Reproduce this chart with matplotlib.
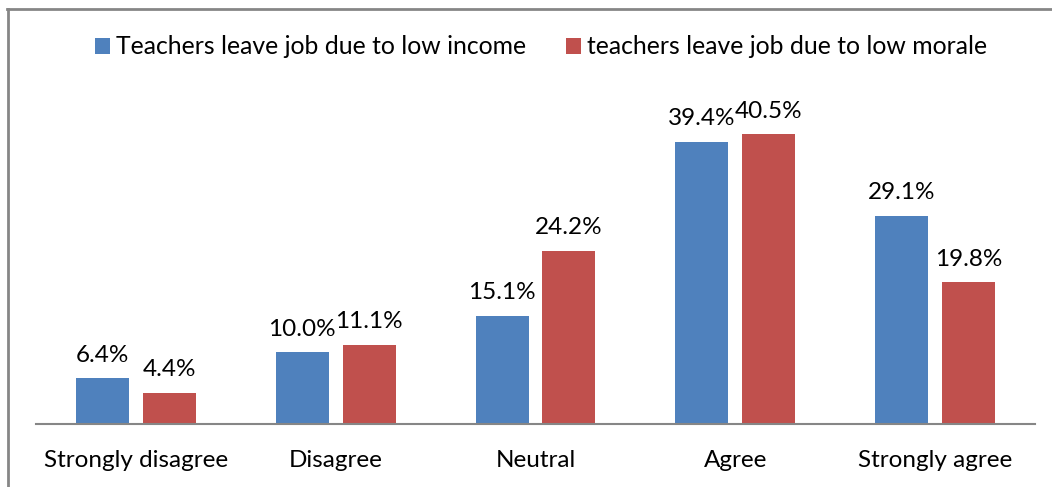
import matplotlib
matplotlib.use("Agg")
import matplotlib.pyplot as plt
import numpy as np
from matplotlib.lines import Line2D
from matplotlib.patches import Patch

categories = ["Strongly disagree", "Disagree", "Neutral", "Agree", "Strongly agree"]
series_names = ["Teachers leave job due to low income",
                "teachers leave job due to low morale"]
low_income = [6.4, 10.0, 15.1, 39.4, 29.1]
low_morale = [4.4, 11.1, 24.2, 40.5, 19.8]

blue = "#4F81BD"
red = "#C0504D"

plt.rcParams["font.family"] = ["Lato", "DejaVu Sans"]
FS = 17.5

W, H = 1052, 487
fig = plt.figure(figsize=(W / 100, H / 100), dpi=100)

# plot area in pixel coordinates
left, right, bottom, top = 36, 1035, 424, 102
ax = fig.add_axes([left / W, 1 - bottom / H, (right - left) / W, (bottom - top) / H])

x = np.arange(len(categories))
width = 0.265
offset = 0.1675
b1 = ax.bar(x - offset, low_income, width, color=blue)
b2 = ax.bar(x + offset, low_morale, width, color=red)

for bars, vals in ((b1, low_income), (b2, low_morale)):
    for rect, v in zip(bars, vals):
        ax.annotate(f"{v:.1f}%", (rect.get_x() + rect.get_width() / 2, v),
                    xytext=(0, 12), textcoords="offset points",
                    ha="center", va="baseline", fontsize=FS, color="#000000")

ax.set_xlim(-0.5, len(categories) - 0.5)
ax.set_ylim(0, 45)
ax.set_xticks(x)
ax.set_xticklabels(categories, fontsize=FS)
ax.tick_params(axis="x", length=0, pad=19)
ax.set_yticks([])
for s in ("top", "right", "left"):
    ax.spines[s].set_visible(False)
ax.spines["bottom"].set_color("#868686")
ax.spines["bottom"].set_linewidth(1.5)

handles = [Patch(facecolor=blue), Patch(facecolor=red)]
fig.legend(handles, series_names, loc="center", bbox_to_anchor=(541 / W, 1 - 47 / H),
           ncol=2, frameon=False, fontsize=17.8, handlelength=0.62, handleheight=0.62,
           handletextpad=0.25, columnspacing=1.6)

# chart frame (top and left edges)
fig.add_artist(Line2D([7 / W, 1], [1 - 8.5 / H, 1 - 8.5 / H], color="#868686", lw=2,
                      transform=fig.transFigure))
fig.add_artist(Line2D([7.5 / W, 7.5 / W], [0, 1 - 8.5 / H], color="#868686", lw=2,
                      transform=fig.transFigure))

fig.savefig("out.png", dpi=100)
